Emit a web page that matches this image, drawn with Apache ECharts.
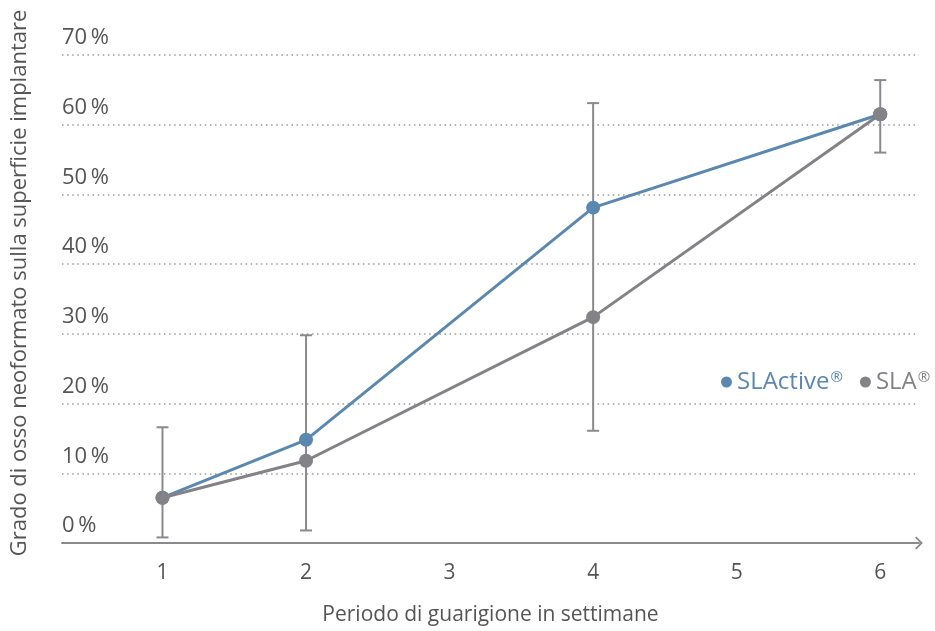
<!DOCTYPE html>
<html>
<head>
<meta charset="utf-8">
<script src="https://cdn.jsdelivr.net/npm/echarts@6/dist/echarts.min.js"></script>
<style>
	html, body { margin: 0; padding: 0; background: #fff; }
	#chart { width: 935px; height: 631px; }
</style>
</head>
<body>
<div id="chart"></div>
<script>
// settimane (x) e valori in % (y)
var weeks = [1, 2, 4, 6]
var slActive = [6.5, 14.8, 48.1, 61.5]
var sla = [6.5, 11.8, 32.4, 61.5]
// barre di errore: [min, max]
var errLow = [0.8, 1.8, 16.1, 56.0]
var errHigh = [16.6, 29.8, 63.1, 66.4]
var yTicks = [0, 10, 20, 30, 40, 50, 60, 70]

var blue = '#5b88b1'
var grey = '#838387'
var textCol = '#555'
var font = '"Open Sans", "Noto Sans", sans-serif'

function pairs(xs, ys) {
	return xs.map(function(x, i) { return [x, ys[i]] })
}

var errData = weeks.map(function(w, i) { return [w, errLow[i], errHigh[i]] })

var chart = echarts.init(document.getElementById('chart'))

var option = {
	animation: false,
	textStyle: { fontFamily: font },
	grid: { left: 62, right: 16, top: 55, bottom: 86.5 },
	legend: {
		left: 721,
		top: 370,
		width: 260,
		padding: 0,
		orient: 'horizontal',
		icon: 'circle',
		itemWidth: 11,
		itemHeight: 11,
		itemGap: 17,
		selectedMode: false,
		data: [
			{ name: 'SLActive', textStyle: { color: blue } },
			{ name: 'SLA', textStyle: { color: grey } }
		],
		formatter: function(name) { return '{a|' + name + '}{r|®}' },
		textStyle: {
			fontFamily: font,
			fontSize: 24,
			rich: {
				a: { fontSize: 24, fontFamily: font },
				r: { fontSize: 15, fontFamily: font, verticalAlign: 'top', padding: [0, 0, 0, 1] }
			}
		}
	},
	xAxis: {
		type: 'value',
		min: 0.3,
		max: 6.27,
		splitNumber: 6,
		name: 'Periodo di guarigione in settimane',
		nameLocation: 'middle',
		nameGap: 62,
		nameTextStyle: { color: textCol, fontSize: 21, fontFamily: font },
		axisLine: {
			lineStyle: { color: '#8a8a8e', width: 1.8 },
			symbol: ['none', 'path://M0,10 L10,0 L20,10 L18,12 L10,4 L2,12 Z'],
			symbolSize: [13, 8],
			symbolOffset: [0, 0]
		},
		axisTick: { show: false },
		splitLine: { show: false },
		axisLabel: {
			color: textCol,
			fontSize: 21,
			margin: 20,
			showMinLabel: false,
			showMaxLabel: false,
			formatter: function(v) { return Number.isInteger(v) ? String(v) : '' }
		}
	},
	yAxis: {
		type: 'value',
		min: 0,
		max: 70,
		interval: 10,
		axisLine: { show: false },
		axisTick: { show: false },
		splitLine: {
			lineStyle: { color: '#9a9a9a', width: 1.5, type: [1.5, 3.6] }
		},
		axisLabel: {
			inside: true,
			align: 'left',
			verticalAlign: 'bottom',
			margin: 0,
			padding: [0, 0, 6, 0],
			color: textCol,
			fontSize: 22,
			formatter: function(v) { return yTicks.indexOf(v) >= 0 ? v + '\u2009%' : '' }
		}
	},
	graphic: [{
		type: 'text',
		x: 20,
		y: 283,
		rotation: Math.PI / 2,
		style: {
			text: 'Grado di osso neoformato sulla superficie implantare',
			fill: textCol,
			font: '22px ' + font,
			align: 'center',
			verticalAlign: 'middle'
		}
	}],
	series: [
		{
			name: 'err',
			type: 'custom',
			z: 1,
			silent: true,
			data: errData,
			renderItem: function(params, api) {
				var lo = api.coord([api.value(0), api.value(1)])
				var hi = api.coord([api.value(0), api.value(2)])
				var h = 6
				var st = { stroke: '#8a8a8e', lineWidth: 2 }
				return {
					type: 'group',
					children: [
						{ type: 'line', shape: { x1: lo[0], y1: lo[1], x2: hi[0], y2: hi[1] }, style: st },
						{ type: 'line', shape: { x1: lo[0] - h, y1: lo[1], x2: lo[0] + h, y2: lo[1] }, style: st },
						{ type: 'line', shape: { x1: hi[0] - h, y1: hi[1], x2: hi[0] + h, y2: hi[1] }, style: st }
					]
				}
			}
		},
		{
			name: 'SLActive',
			type: 'line',
			z: 3,
			data: pairs(weeks, slActive),
			symbol: 'circle',
			symbolSize: 14,
			lineStyle: { color: blue, width: 3 },
			itemStyle: { color: blue }
		},
		{
			name: 'SLA',
			type: 'line',
			z: 4,
			data: pairs(weeks, sla),
			symbol: 'circle',
			symbolSize: 14,
			lineStyle: { color: grey, width: 3 },
			itemStyle: { color: grey }
		}
	]
}

chart.setOption(option)
</script>
</body>
</html>
